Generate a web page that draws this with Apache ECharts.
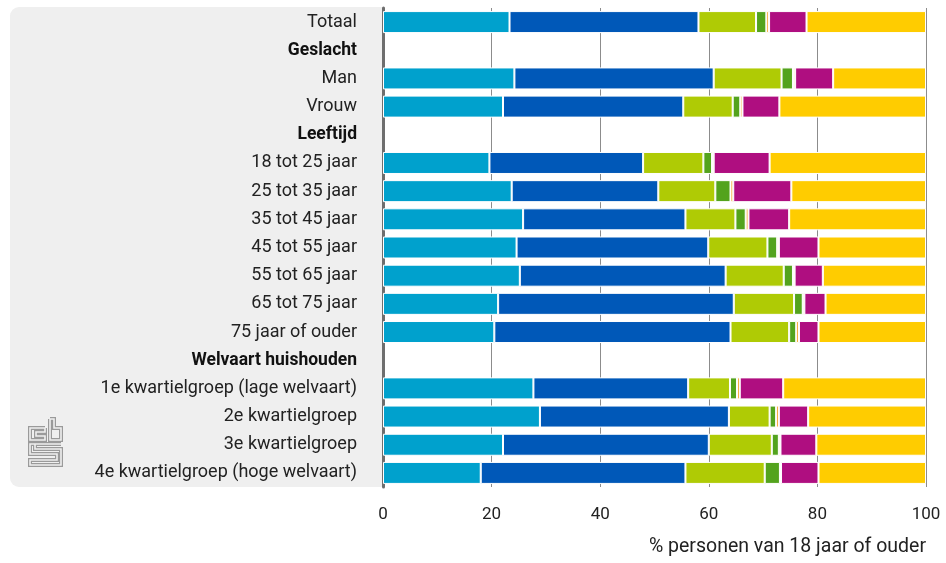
<!DOCTYPE html>
<html>
<head>
<meta charset="utf-8">
<script src="https://cdn.jsdelivr.net/npm/echarts@6/dist/echarts.min.js"></script>
<style>
  html, body { margin: 0; padding: 0; background: #fff; }
  #chart { width: 946px; height: 563px; }
</style>
</head>
<body>
<div id="chart"></div>
<script>
// rijen (kopregels hebben geen balk)
var categories = ['Totaal', 'Geslacht', 'Man', 'Vrouw', 'Leeftijd',
  '18 tot 25 jaar', '25 tot 35 jaar', '35 tot 45 jaar', '45 tot 55 jaar',
  '55 tot 65 jaar', '65 tot 75 jaar', '75 jaar of ouder', 'Welvaart huishouden',
  '1e kwartielgroep (lage welvaart)', '2e kwartielgroep', '3e kwartielgroep',
  '4e kwartielgroep (hoge welvaart)'];
var headers = ['Geslacht', 'Leeftijd', 'Welvaart huishouden'];

var xTicks = [0, 20, 40, 60, 80, 100];

// waarden per serie, in % (null = kopregel)
var serie1 = [23.3, null, 24.2, 22.1, null, 19.6, 23.7, 25.8, 24.6, 25.2, 21.2, 20.5, null, 27.7, 28.9, 22.1, 18.0];
var serie2 = [34.8, null, 36.7, 33.2, null, 28.3, 27.0, 29.9, 35.3, 37.9, 43.4, 43.5, null, 28.5, 34.8, 37.9, 37.7];
var serie3 = [10.6, null, 12.5, 9.1, null, 11.1, 10.5, 9.2, 10.9, 10.7, 11.1, 10.8, null, 7.7, 7.5, 11.6, 14.6];
var serie4 = [1.9, null, 2.1, 1.4, null, 1.6, 2.8, 1.9, 1.8, 1.7, 1.6, 1.3, null, 1.3, 1.2, 1.3, 2.8];
var serie5 = [0.5, null, 0.4, 0.4, null, 0.3, 0.5, 0.5, 0.3, 0.3, 0.3, 0.5, null, 0.5, 0.5, 0.3, 0.2];
var serie6 = [6.9, null, 7.0, 6.8, null, 10.3, 10.7, 7.5, 7.3, 5.2, 3.9, 3.6, null, 8.0, 5.4, 6.6, 6.9];
var serie7 = [22.0, null, 17.1, 27.0, null, 28.8, 24.8, 25.2, 19.8, 19.0, 18.5, 19.8, null, 26.3, 21.7, 20.2, 19.8];

var seriesNames = ['Categorie 1', 'Categorie 2', 'Categorie 3', 'Categorie 4', 'Categorie 5', 'Categorie 6', 'Categorie 7'];
var seriesData = [serie1, serie2, serie3, serie4, serie5, serie6, serie7];
var colors = ['#00a1cd', '#0058b8', '#afcb05', '#53a31d', '#f39200', '#af0e80', '#ffcc00'];

var chart = echarts.init(document.getElementById('chart'));

var series = [];
for (var i = 0; i < seriesData.length; i++) {
  series.push({
    name: seriesNames[i],
    type: 'bar',
    stack: 'totaal',
    barWidth: 22,
    data: seriesData[i],
    itemStyle: { color: colors[i], borderColor: '#fff', borderWidth: 1 }
  });
}

// cbs logo: dikke grijze lijn met dunne lichte lijn erover => dubbele omtrek
function logoLine(points, w, c) {
  return { type: 'polyline', silent: true, z: -5, shape: { points: points },
    style: { stroke: c, lineWidth: w, fill: null, lineJoin: 'miter' } };
}
var logoParts = [
  [[45, 428], [30, 428], [30, 440], [45, 440], [45, 436], [36, 436], [36, 432], [45, 432], [45, 428]],
  [[50, 419], [50, 440], [61, 440], [61, 428], [54, 428], [54, 419], [50, 419]],
  [[61, 444], [30, 444], [30, 454], [57, 454], [57, 460], [30, 460], [30, 465], [61, 465], [61, 449], [35, 449], [35, 444]]
];
var graphics = [{
  type: 'rect', silent: true, z: -10,
  shape: { x: 10, y: 7, width: 372, height: 480, r: [9, 0, 0, 9] },
  style: { fill: '#efefef' }
}];
logoParts.forEach(function (p) { graphics.push(logoLine(p, 4, '#9a9a9a')); });
logoParts.forEach(function (p) { graphics.push(logoLine(p, 1.6, '#efefef')); });

chart.setOption({
  animation: false,
  textStyle: { fontFamily: 'Roboto' },
  graphic: graphics,
  grid: { left: 383, right: 20, top: 8, bottom: 76, containLabel: false },
  xAxis: {
    type: 'value',
    min: 0,
    max: 100,
    interval: 20,
    axisLine: { show: false },
    axisTick: { show: false },
    axisLabel: { color: '#222', fontSize: 17, margin: 19,
      formatter: function (v) { return xTicks.indexOf(v) >= 0 ? String(v) : ''; } },
    splitLine: { show: true, lineStyle: { color: '#8c8c8c', width: 1 } },
    name: '% personen van 18 jaar of ouder',
    nameLocation: 'end',
    nameGap: 0,
    nameTextStyle: { color: '#222', fontSize: 19.5, align: 'right', verticalAlign: 'top', padding: [50, 0, 0, 0] }
  },
  yAxis: {
    type: 'category',
    inverse: true,
    data: categories,
    axisLine: { show: true, lineStyle: { color: '#6e6e6e', width: 3 } },
    axisTick: { show: false },
    axisLabel: {
      margin: 26,
      fontSize: 18,
      color: '#222',
      formatter: function (v) {
        return headers.indexOf(v) >= 0 ? '{b|' + v + '}' : v;
      },
      rich: { b: { fontWeight: 'bold', fontSize: 17.5, color: '#111' } }
    }
  },
  series: series
});
</script>
</body>
</html>
